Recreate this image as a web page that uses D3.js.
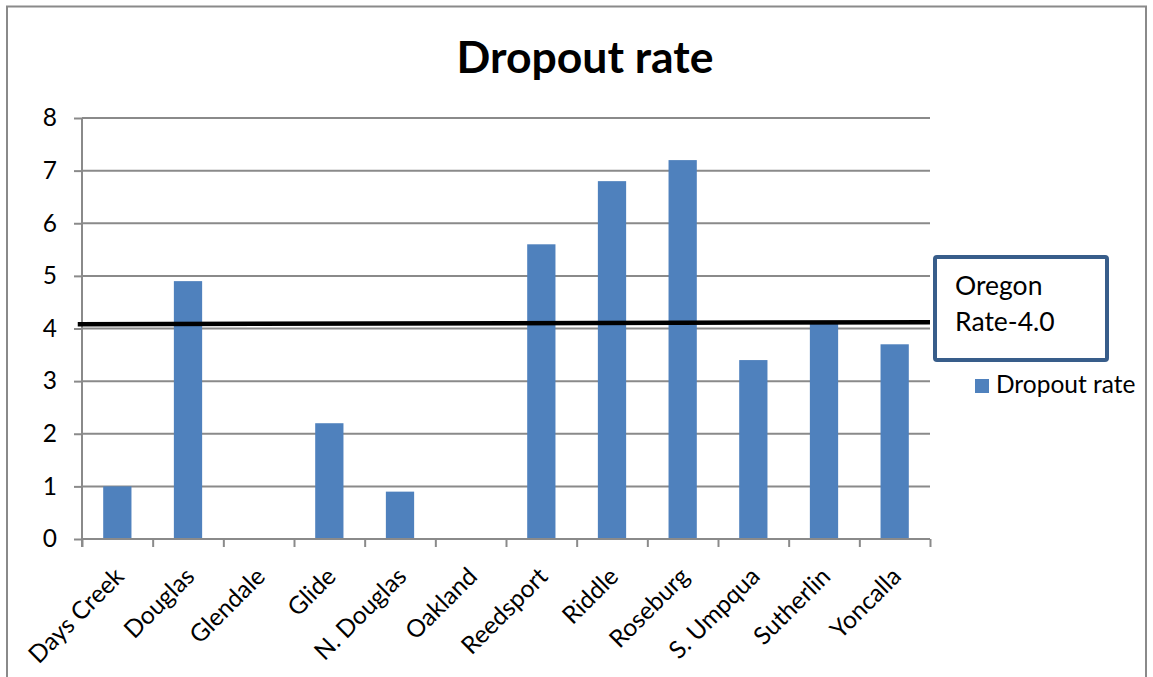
<!DOCTYPE html>
<html>
<head>
<meta charset="utf-8">
<script src="https://cdn.jsdelivr.net/npm/d3@7"></script>
<style>
  html, body { margin: 0; padding: 0; background: #fff; }
  svg { display: block; font-family: Lato, "Open Sans", sans-serif; }
</style>
</head>
<body>
<svg id="chart" width="1153" height="677"></svg>
<script>
const schools = ["Days Creek", "Douglas", "Glendale", "Glide", "N. Douglas", "Oakland",
  "Reedsport", "Riddle", "Roseburg", "S. Umpqua", "Sutherlin", "Yoncalla"];
const dropoutRates = [1.0, 4.9, 0, 2.2, 0.9, 0, 5.6, 6.8, 7.2, 3.4, 4.1, 3.7];
const yTicks = [0, 1, 2, 3, 4, 5, 6, 7, 8];
// hand-drawn state reference line, slightly tilted in the original
const oregonLineLevels = [4.08, 4.12];
const oregonLabel = ["Oregon", "Rate-4.0"];
const seriesName = "Dropout rate";

const plot = { left: 82, right: 930, top: 118, bottom: 539 };
const barColor = "#4f81bd";
const gridColor = "#8a8a8a";

const svg = d3.select("#chart");

// outer chart frame
svg.append("rect")
  .attr("x", 7).attr("y", 6.5)
  .attr("width", 1139).attr("height", 700)
  .attr("fill", "#fff")
  .attr("stroke", "#8a8a8a")
  .attr("stroke-width", 2);

const x = d3.scaleBand()
  .domain(schools)
  .range([plot.left, plot.right])
  .paddingInner(0.6)
  .paddingOuter(0.3);

const xIndex = d3.scaleLinear()
  .domain([0, schools.length])
  .range([plot.left, plot.right]);

const y = d3.scaleLinear()
  .domain([0, 8])
  .range([plot.bottom, plot.top]);

// gridlines + y axis
const yAxis = svg.append("g")
  .attr("transform", `translate(${plot.left},0)`)
  .call(d3.axisLeft(y).tickValues(yTicks).tickSize(8).tickPadding(17).tickFormat(d3.format("d")));
yAxis.select(".domain").remove();
yAxis.selectAll(".tick line").attr("stroke", gridColor).attr("stroke-width", 2);
yAxis.selectAll(".tick text")
  .attr("fill", "#000")
  .attr("font-size", 24.5)
  .attr("font-family", "Lato, 'Open Sans', sans-serif");

svg.append("g")
  .selectAll("line")
  .data(yTicks.filter((d) => d > 0))
  .join("line")
  .attr("x1", plot.left).attr("x2", plot.right)
  .attr("y1", (d) => y(d)).attr("y2", (d) => y(d))
  .attr("stroke", gridColor)
  .attr("stroke-width", 2);

svg.append("line")
  .attr("x1", plot.left).attr("x2", plot.left)
  .attr("y1", y(8)).attr("y2", y(0) + 8)
  .attr("stroke", gridColor)
  .attr("stroke-width", 2);

// bars
svg.append("g")
  .selectAll("rect")
  .data(schools.map((name, i) => ({ name, value: dropoutRates[i] })))
  .join("rect")
  .attr("x", (d) => x(d.name))
  .attr("width", x.bandwidth())
  .attr("y", (d) => y(d.value))
  .attr("height", (d) => y(0) - y(d.value))
  .attr("fill", barColor);

// x axis with ticks between categories
const xAxis = svg.append("g")
  .attr("transform", `translate(0,${plot.bottom})`)
  .call(d3.axisBottom(xIndex).tickValues(d3.range(schools.length + 1)).tickSize(8).tickFormat(""));
xAxis.select(".domain").attr("stroke", gridColor).attr("stroke-width", 2).attr("d", `M${plot.left},0H${plot.right}`);
xAxis.selectAll(".tick line").attr("stroke", gridColor).attr("stroke-width", 2);

svg.append("g")
  .selectAll("text")
  .data(schools)
  .join("text")
  .attr("transform", (d) => `translate(${x(d) + x.bandwidth() / 2 + 8},578) rotate(-45)`)
  .attr("text-anchor", "end")
  .attr("font-size", 24.5)
  .attr("fill", "#000")
  .text((d) => d);

// Oregon reference line
svg.append("line")
  .attr("x1", xIndex(-0.06)).attr("y1", y(oregonLineLevels[0]))
  .attr("x2", xIndex(schools.length)).attr("y2", y(oregonLineLevels[1]))
  .attr("stroke", "#000")
  .attr("stroke-width", 4.5);

// text box
svg.append("rect")
  .attr("x", 935).attr("y", 257)
  .attr("width", 172).attr("height", 103)
  .attr("rx", 2)
  .attr("fill", "#fff")
  .attr("stroke", "#385d8a")
  .attr("stroke-width", 4);

svg.append("g")
  .selectAll("text")
  .data(oregonLabel)
  .join("text")
  .attr("x", 955)
  .attr("y", (d, i) => 295 + i * 36)
  .attr("font-size", 26.5)
  .attr("fill", "#000")
  .text((d) => d);

// legend
const legend = svg.append("g").attr("transform", "translate(975,379)");
legend.append("rect").attr("width", 14).attr("height", 14).attr("fill", barColor);
legend.append("text")
  .attr("x", 21).attr("y", 14)
  .attr("font-size", 24.5)
  .attr("fill", "#000")
  .text(seriesName);

// title
svg.append("text")
  .attr("x", 585).attr("y", 73)
  .attr("text-anchor", "middle")
  .attr("font-size", 44.5)
  .attr("font-weight", "bold")
  .attr("fill", "#000")
  .text(seriesName);
</script>
</body>
</html>
